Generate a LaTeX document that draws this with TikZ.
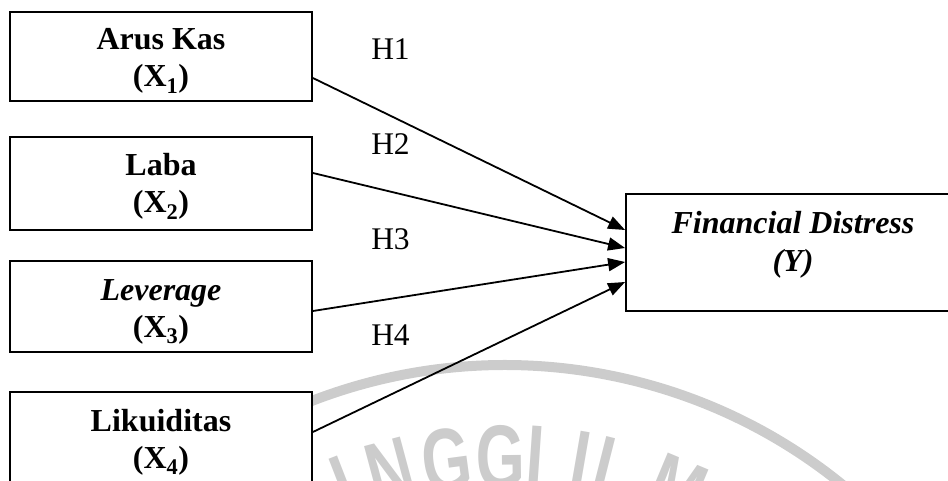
\documentclass[tikz,border=0pt]{standalone}
\usepackage{fontspec}
\setmainfont{Liberation Serif}
\newfontfamily\wmfont{Liberation Sans}[FakeStretch=0.7]
\usetikzlibrary{arrows.meta}
\definecolor{wmgray}{gray}{0.8}

\tikzset{
  varbox/.style={draw=black, line width=1.8pt, fill=white, inner sep=0pt,
                 minimum width=302pt},
  lbl/.style={anchor=base, inner sep=0pt, font=\fontsize{32}{38}\selectfont\bfseries},
  hyp/.style={anchor=base, inner sep=0pt, font=\fontsize{31.5}{38}\selectfont},
  link/.style={line width=1.8pt, -{Triangle[length=17pt,width=13pt]}},
  wmband/.style={draw=wmgray, line width=10pt},
  wmletter/.style={anchor=north, inner sep=0pt, text=wmgray,
                   font=\wmfont\bfseries\fontsize{90}{90}\selectfont}
}

\begin{document}
\begin{tikzpicture}[x=1pt, y=1pt]
  \useasboundingbox (0,0) rectangle (948,480);
  \clip (0,0) rectangle (948,480);

  % faint seal in the background
  \begin{scope}[shift={(505,-420)}]
    \draw[wmband] (128:535) arc[start angle=128, end angle=40, radius=535pt];
    \foreach \ang/\ch/\k in {111.2/I/1, 105/N/2, 97.6/G/3, 90.6/G/4,
                             86.1/I/5, 80.2/I/6, 75.8/L/7, 67.3/M/8}
      \node[wmletter, rotate=\ang-90] (wm\k) at (\ang:475) {\ch};
  \end{scope}

  % independent variables
  \node[varbox, minimum height=89pt] (b1) at (161,423.5) {};
  \node[varbox, minimum height=93pt] (b2) at (161,296.5) {};
  \node[varbox, minimum height=91pt] (b3) at (161,173.5) {};
  \node[varbox, minimum height=91pt] (b4) at (161,42.5) {};
  % dependent variable
  \node[varbox, minimum width=334pt, minimum height=117pt] (y) at (793,227.5) {};

  \node[lbl] (b1a) at (161,430) {Arus Kas};
  \node[lbl] (b1b) at (161,393) {(X\textsubscript{1})};
  \node[lbl] (b2a) at (161,304) {Laba};
  \node[lbl] (b2b) at (161,267) {(X\textsubscript{2})};
  \node[lbl] (b3a) at (161,180) {\textit{Leverage}};
  \node[lbl] (b3b) at (161,143) {(X\textsubscript{3})};
  \node[lbl] (b4a) at (161,49) {Likuiditas};
  \node[lbl] (b4b) at (161,12) {(X\textsubscript{4})};
  \node[lbl] (ya) at (793,246) {\textit{Financial Distress}};
  \node[lbl] (yb) at (793,208) {\textit{(Y)}};

  % hypotheses
  \draw[link] ([yshift=-21.5pt]b1.east) -- ([yshift=22.5pt]y.west);
  \draw[link] ([yshift=10.5pt]b2.east) -- ([yshift=4.5pt]y.west);
  \draw[link] ([yshift=-4.5pt]b3.east) -- ([yshift=-9.5pt]y.west);
  \draw[link] ([yshift=5.5pt]b4.east) -- ([yshift=-29.5pt]y.west);

  \node[hyp] (h1) at (390.5,420) {H1};
  \node[hyp] (h2) at (390.5,325) {H2};
  \node[hyp] (h3) at (390.5,230) {H3};
  \node[hyp] (h4) at (390.5,135) {H4};
\end{tikzpicture}
\end{document}
